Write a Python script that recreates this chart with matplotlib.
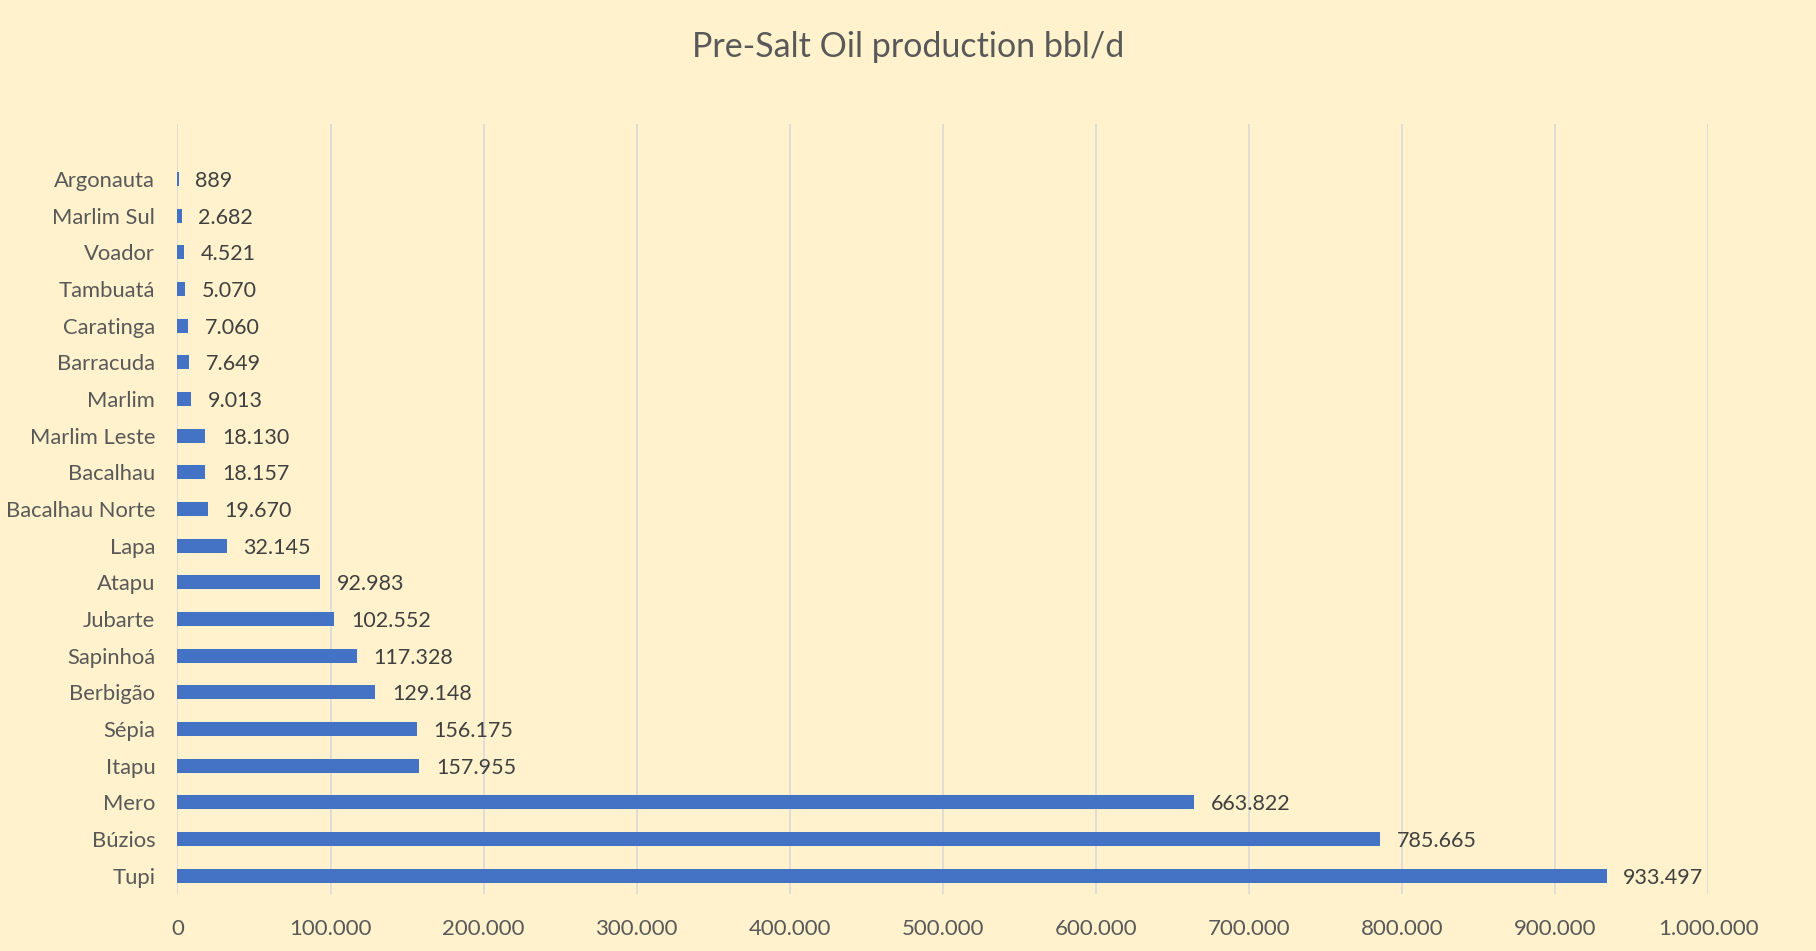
import matplotlib
matplotlib.use("Agg")
import matplotlib.pyplot as plt
from matplotlib.ticker import FuncFormatter

fields = ["Tupi", "Búzios", "Mero", "Itapu", "Sépia", "Berbigão", "Sapinhoá",
          "Jubarte", "Atapu", "Lapa", "Bacalhau Norte", "Bacalhau", "Marlim Leste",
          "Marlim", "Barracuda", "Caratinga", "Tambuatá", "Voador", "Marlim Sul",
          "Argonauta"]
production = [933497, 785665, 663822, 157955, 156175, 129148, 117328,
              102552, 92983, 32145, 19670, 18157, 18130,
              9013, 7649, 7060, 5070, 4521, 2682, 889]
x_ticks = [0, 100000, 200000, 300000, 400000, 500000, 600000, 700000, 800000, 900000, 1000000]
title = "Pre-Salt Oil production bbl/d"

def fmt(v):
    return f"{int(round(v)):,}".replace(",", ".")

plt.rcParams['font.family'] = ['Lato', 'DejaVu Sans']
bg = "#FFF2CC"
txt = "#595959"

fig = plt.figure(figsize=(18.16, 9.51), dpi=100, facecolor=bg)
ax = fig.add_axes([0.0977, 0.060, 0.9408 - 0.0977, 0.8696 - 0.060])
ax.set_facecolor(bg)

pos = list(range(len(fields)))
ax.barh(pos, production, height=0.38, color="#4472C4", zorder=3)
for p, v in zip(pos, production):
    ax.annotate(fmt(v), xy=(v, p), xytext=(12, -1.5), textcoords="offset points",
                va="center", ha="left", fontsize=15.5, color="#404040")

ax.set_xlim(0, 1000000)
ax.set_ylim(-0.5, len(fields) + 0.5)
ax.set_xticks(x_ticks)
ax.xaxis.set_major_formatter(FuncFormatter(lambda v, _: fmt(v)))
ax.set_yticks(pos)
ax.set_yticklabels(fields)
ax.tick_params(axis="both", length=0, colors=txt)
ax.tick_params(axis="x", pad=18, labelsize=16)
ax.tick_params(axis="y", pad=16, labelsize=15.8)
ax.grid(axis="x", color="#D9D9D9", linewidth=1.2, zorder=0)
for s in ax.spines.values():
    s.set_visible(False)

fig.text(0.5, 0.951, title, ha="center", va="center", fontsize=24.5, color=txt)

fig.savefig("out.png", dpi=100, facecolor=bg)
